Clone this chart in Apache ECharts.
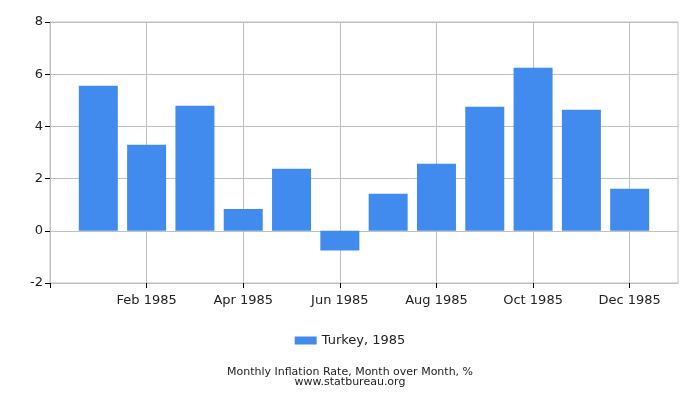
<!DOCTYPE html>
<html>
<head>
<meta charset="utf-8">
<script src="https://cdn.jsdelivr.net/npm/echarts@6/dist/echarts.min.js"></script>
<style>
  html, body { margin: 0; padding: 0; background: #fff; }
  #chart { width: 700px; height: 400px; }
</style>
</head>
<body>
<div id="chart"></div>
<script>
// month positions on the x axis: 1 = Jan 1985 ... 12 = Dec 1985
var months = [1, 2, 3, 4, 5, 6, 7, 8, 9, 10, 11, 12]
var monthNames = ['Jan', 'Feb', 'Mar', 'Apr', 'May', 'Jun', 'Jul', 'Aug', 'Sep', 'Oct', 'Nov', 'Dec']
// Turkey, monthly inflation, %
var turkey1985 = [5.56, 3.30, 4.79, 0.84, 2.38, -0.75, 1.42, 2.57, 4.75, 6.25, 4.64, 1.61]
var xTicks = [0, 2, 4, 6, 8, 10, 12]
var yTicks = [-2, 0, 2, 4, 6, 8]

var seriesData = months.map(function (m, i) { return [m, turkey1985[i]] })

var myChart = echarts.init(document.getElementById('chart'))
var font = 'DejaVu Sans'

var option = {
    backgroundColor: '#fff',
    animation: false,
    textStyle: { fontFamily: font },
    grid: { left: 50, right: 22, top: 22, bottom: 117, show: true, borderColor: '#c0c0c0', borderWidth: 1 },
    legend: {
        bottom: 48,
        left: 'center',
        icon: 'rect',
        itemWidth: 22,
        itemHeight: 8,
        itemGap: 4,
        textStyle: { fontFamily: font, fontSize: 13, color: '#222' },
        data: ['Turkey, 1985']
    },
    title: {
        text: 'Monthly Inflation Rate, Month over Month, %\nwww.statbureau.org',
        left: 'center',
        bottom: 7,
        textStyle: { fontFamily: font, fontSize: 11, fontWeight: 'normal', color: '#222', lineHeight: 10 }
    },
    xAxis: {
        type: 'value',
        min: 0,
        max: 13,
        interval: 2,
        axisLine: { show: true, onZero: false, lineStyle: { color: '#c0c0c0' } },
        axisTick: { show: true, length: 5, customValues: xTicks, lineStyle: { color: '#000' } },
        splitLine: { show: true, lineStyle: { color: '#c0c0c0' } },
        axisLabel: {
            fontFamily: font, fontSize: 13, color: '#222', margin: 11,
            formatter: function (v) {
                if (v < 1 || v > 12) return ''
                return monthNames[v - 1] + ' 1985'
            }
        }
    },
    yAxis: {
        type: 'value',
        min: yTicks[0],
        max: yTicks[yTicks.length - 1],
        interval: 2,
        axisLine: { show: true, lineStyle: { color: '#c0c0c0' } },
        axisTick: { show: true, length: 5, lineStyle: { color: '#000' } },
        splitLine: { show: true, lineStyle: { color: '#c0c0c0' } },
        axisLabel: { fontFamily: font, fontSize: 13, color: '#222', margin: 7 }
    },
    series: [
        {
            name: 'Turkey, 1985',
            type: 'bar',
            barWidth: 39,
            data: seriesData,
            itemStyle: { color: '#428bee' }
        }
    ]
}
myChart.setOption(option)
</script>
</body>
</html>
